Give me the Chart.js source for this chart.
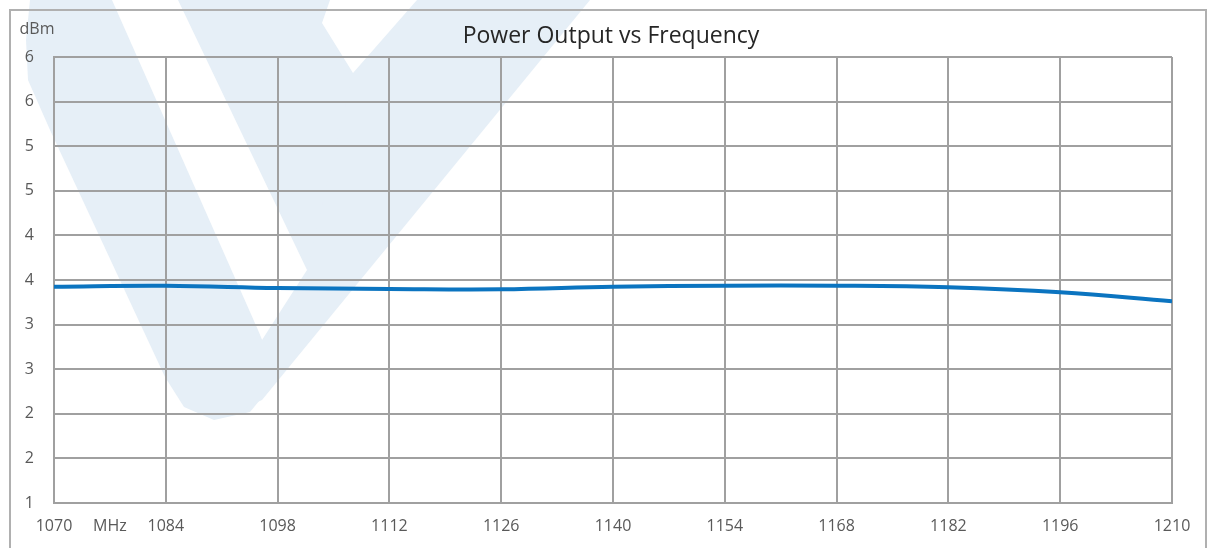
<!DOCTYPE html>
<html>
<head>
<meta charset="utf-8">
<script src="https://cdn.jsdelivr.net/npm/chart.js@4.4.1/dist/chart.umd.min.js"></script>
<style>
  html, body { margin: 0; padding: 0; background: #fff; }
  #wrap { width: 1209px; height: 548px; position: relative; }
</style>
</head>
<body>
<div id="wrap"><canvas id="chartPower"></canvas></div>
<script>
/* ── Datos ─────────────────────────────────────────── */
var FREQ_MHZ  = [1070, 1084, 1098, 1112, 1126, 1140, 1154, 1168, 1182, 1196, 1210];
var POWER_DBM = [3.425, 3.435, 3.41, 3.40, 3.396, 3.425, 3.436, 3.436, 3.418, 3.362, 3.261];
var Y_MIN = 1, Y_MAX = 6, Y_STEP = 0.5;
var X_MIN = 1070, X_MAX = 1210, X_STEP = 14;

var TITLE   = 'Power Output vs Frequency';
var Y_UNIT  = 'dBm';
var X_UNIT  = 'MHz';

/* ── Estilos ───────────────────────────────────────── */
var LINE_BLUE = '#0b74c0';
var GRID      = '#a0a0a0';
var TEXT      = '#595959';
var FONT      = '"Open Sans", sans-serif';
var WATERMARK = '#e6eff7';

/* ── Marca de agua + marco exterior ────────────────── */
var bgPlugin = {
    id: 'bg',
    beforeDraw: function (chart) {
        var c = chart.ctx;
        c.save();
        c.fillStyle = '#fff';
        c.fillRect(0, 0, chart.width, chart.height);

        c.fillStyle = WATERMARK;
        var shapes = [
            [[30,0],[112,0],[258,330],[278,378],[250,412],[214,420],[184,407],[165,377],[50,130],[28,80],[26,40]],
            [[178,0],[330,0],[322,23],[353,73],[408,172],[307,270]],
            [[417,0],[590,0],[262,400],[232,414],[262,340],[307,270],[353,73]]
        ];
        shapes.forEach(function (pts) {
            c.beginPath();
            pts.forEach(function (p, i) { if (i) c.lineTo(p[0], p[1]); else c.moveTo(p[0], p[1]); });
            c.closePath();
            c.fill();
        });

        c.strokeStyle = '#b0b0b0';
        c.lineWidth = 2;
        c.strokeRect(10, 10, 1196, 600);
        c.restore();
    },
    afterDraw: function (chart) {
        var c = chart.ctx;
        var xs = chart.scales.x;
        c.save();
        c.fillStyle = '#262626';
        c.font = '23px ' + FONT;
        c.textAlign = 'center';
        c.textBaseline = 'middle';
        c.fillText(TITLE, 611, 36);

        c.fillStyle = TEXT;
        c.font = '16px ' + FONT;
        c.fillText(Y_UNIT, 37, 29);
        c.fillText(X_UNIT, xs.getPixelForValue((FREQ_MHZ[0] + FREQ_MHZ[1]) / 2), 526);
        c.restore();
    }
};

var points = FREQ_MHZ.map(function (f, i) { return { x: f, y: POWER_DBM[i] }; });

new Chart(document.getElementById('chartPower'), {
    type: 'line',
    data: {
        datasets: [{
            label: 'Power',
            data: points,
            borderColor: LINE_BLUE,
            borderWidth: 4,
            pointRadius: 0,
            tension: 0.4,
            fill: false
        }]
    },
    options: {
        responsive: true,
        maintainAspectRatio: false,
        animation: false,
        layout: { padding: { left: 0, top: 57, right: 37, bottom: 0 } },
        plugins: {
            legend: { display: false },
            title: { display: false },
            tooltip: { enabled: false }
        },
        scales: {
            x: {
                type: 'linear',
                min: X_MIN, max: X_MAX,
                afterFit: function (s) { s.height = 45; },
                grid: { color: GRID, lineWidth: 2, drawTicks: false },
                border: { color: GRID, width: 2 },
                ticks: {
                    stepSize: X_STEP,
                    padding: 14,
                    color: TEXT,
                    font: { family: FONT, size: 16 },
                    maxRotation: 0,
                    callback: function (v) { return String(v); }
                }
            },
            y: {
                min: Y_MIN, max: Y_MAX,
                afterFit: function (s) { s.width = 54; },
                grid: { color: GRID, lineWidth: 2, drawTicks: false },
                border: { color: GRID, width: 2 },
                ticks: {
                    stepSize: Y_STEP,
                    padding: 20,
                    color: TEXT,
                    font: { family: FONT, size: 16 },
                    callback: function (v) { return String(Math.round(v)); }
                }
            }
        }
    },
    plugins: [bgPlugin]
});
</script>
</body>
</html>
